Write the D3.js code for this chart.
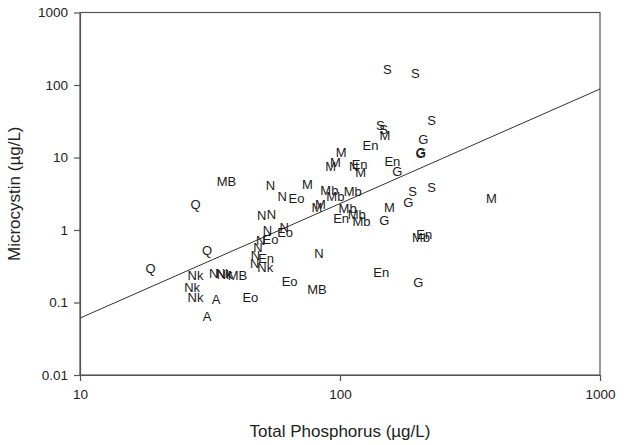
<!DOCTYPE html>
<html>
<head>
<meta charset="utf-8">
<script src="https://cdn.jsdelivr.net/npm/d3@7"></script>
<style>
body { margin: 0; background: #fff; }
text { font-family: "Liberation Sans", Arial, sans-serif; }
</style>
</head>
<body>
<div class="container"></div>
<script>
// lake codes, total phosphorus (ug/L) and microcystin (ug/L)
var labels = ["S","S","S","S","S","M","G","G","G","En",
	"M","M","M","En","N","M","En","G","S","S",
	"G","M","G","M","M","N","N","Eo","Mb","Mb",
	"Mb","M","M","Mb","Mb","Mb","En","N","N","N",
	"Eo","N","N","Eo","N","N","N","En","Nk","MB",
	"Q","Q","Q","Nk","Nk","Nk","A","A","N","Nk",
	"Nk","MB","Eo","Eo","MB","N","En","G","Mb","En"];
var tp = [152,195,225,143,147,149,209,204,205,131,
	101,96,92,119,113,120,159,166,190,225,
	183,155,148,382,75,54,60,68,91,96,
	112,81.5,84,107,116,121,101,50,54.5,61,
	61.5,52.6,49.5,54,48.4,47.3,47,52,51.6,36.6,
	27.8,30.8,18.7,27.8,27,27.8,33.4,30.8,32.7,35.7,
	36,40.3,45.2,64,81.5,83,144,200,205,211];
var mc = [163,142,32.5,28,24.5,20.4,17.8,11.5,11.7,14.8,
	11.7,8.5,7.5,8.1,7.5,6.3,8.7,6.4,3.4,3.8,
	2.4,2.05,1.35,2.7,4.3,4.07,2.94,2.76,3.5,2.9,
	3.4,2.05,2.23,1.95,1.66,1.32,1.45,1.58,1.66,1.09,
	0.91,0.98,0.715,0.74,0.58,0.445,0.345,0.40,0.30,4.6,
	2.28,0.52,0.29,0.236,0.16,0.119,0.11,0.065,0.25,0.252,
	0.245,0.234,0.119,0.197,0.15,0.47,0.257,0.19,0.78,0.88];

// regression line end points
var fitX = [10, 1000];
var fitY = [0.061, 88];

var xTicks = [10, 100, 1000];
var yTicks = [0.01, 0.1, 1, 10, 100, 1000];
var yTickLabels = ["0.01", "0.1", "1", "10", "100", "1000"];

var width = 624, height = 445;
var padLeft = 80, padRight = 600, padTop = 12.5, padBottom = 375;

var svg = d3.select(".container").append("svg")
	.attr("width", width)
	.attr("height", height);

var x = d3.scaleLog().domain([10, 1000]).range([padLeft, padRight]);
var y = d3.scaleLog().domain([0.01, 1000]).range([padBottom, padTop]);

// frame
svg.append("rect")
	.attr("x", padLeft).attr("y", padTop)
	.attr("width", padRight - padLeft).attr("height", padBottom - padTop)
	.attr("fill", "none").attr("stroke", "#555").attr("stroke-width", 1.2);

var xAxis = svg.append("g")
	.attr("transform", "translate(0," + padBottom + ")")
	.call(d3.axisBottom(x).tickValues(xTicks).tickFormat(d3.format("d"))
		.tickSize(6).tickSizeOuter(0).tickPadding(8));
var yAxis = svg.append("g")
	.attr("transform", "translate(" + padLeft + ",0)")
	.call(d3.axisLeft(y).tickValues(yTicks).tickFormat(function(d, i){ return yTickLabels[i]; })
		.tickSize(6).tickSizeOuter(0).tickPadding(6));

[xAxis, yAxis].forEach(function(a){
	a.select(".domain").attr("stroke", "#555").attr("stroke-width", 1.2);
	a.selectAll(".tick line").attr("stroke", "#555").attr("stroke-width", 1.2);
	a.selectAll(".tick text").attr("fill", "#222")
		.style("font-family", "'Liberation Sans', Arial, sans-serif")
		.style("font-size", "13.5px");
});

// fitted line
var line = d3.line().x(function(d){ return x(d[0]); }).y(function(d){ return y(d[1]); });
svg.append("path")
	.datum(d3.zip(fitX, fitY))
	.attr("d", line)
	.attr("fill", "none")
	.attr("stroke", "#333")
	.attr("stroke-width", 1);

// point labels
svg.append("g").selectAll("text")
	.data(d3.range(labels.length))
	.enter().append("text")
	.attr("x", function(i){ return x(tp[i]); })
	.attr("y", function(i){ return y(mc[i]); })
	.attr("text-anchor", "middle")
	.attr("dominant-baseline", "central")
	.attr("fill", "#1a1a1a")
	.style("font-size", "13px")
	.text(function(i){ return labels[i]; });

// axis titles
svg.append("text")
	.attr("x", (padLeft + padRight) / 2).attr("y", 437)
	.attr("text-anchor", "middle")
	.attr("fill", "#222")
	.style("font-size", "17px")
	.text("Total Phosphorus (\u00b5g/L)");

svg.append("text")
	.attr("transform", "translate(20," + ((padTop + padBottom) / 2) + ") rotate(-90)")
	.attr("text-anchor", "middle")
	.attr("fill", "#222")
	.style("font-size", "17px")
	.text("Microcystin (\u00b5g/L)");
</script>
</body>
</html>
